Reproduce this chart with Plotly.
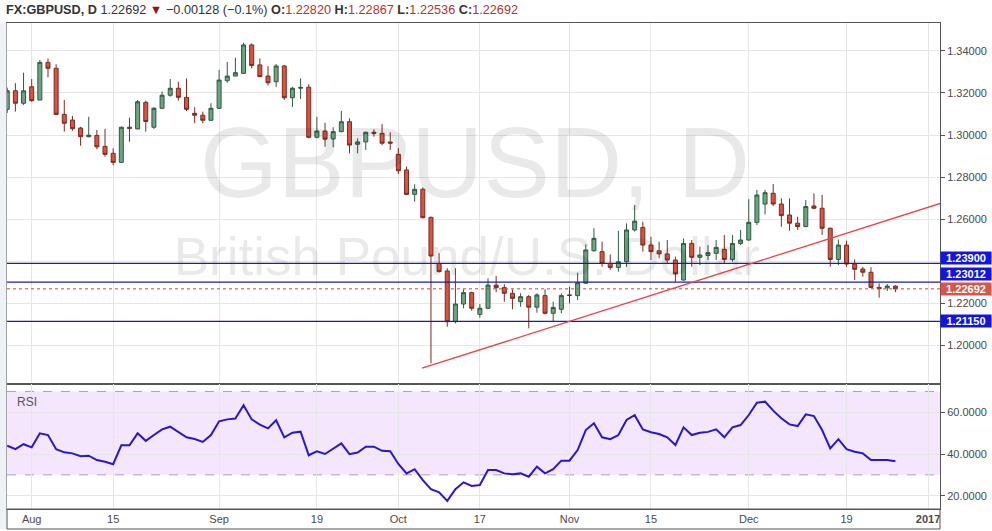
import plotly.graph_objects as go
import pandas as pd

W, H = 992, 531

# ---------------- data ----------------
start_date = "2016-07-27"   # first (partly hidden) daily bar

opens = [1.3122, 1.3210, 1.3151, 1.3229, 1.3166, 1.3345, 1.3317, 1.3098, 1.3071, 1.3033,
         1.2992, 1.2998, 1.2946, 1.2913, 1.2870, 1.3037, 1.3029, 1.3155, 1.3037, 1.3127,
         1.3189, 1.3222, 1.3179, 1.3103, 1.3094, 1.3070, 1.3127, 1.3258, 1.3280, 1.3293,
         1.3428, 1.3333, 1.3280, 1.3253, 1.3328, 1.3177, 1.3222, 1.3227, 1.2989, 1.3019,
         1.2981, 1.3016, 1.3063, 1.2956, 1.2967, 1.3013, 1.3008, 1.2967, 1.2908, 1.2834,
         1.2718, 1.2742, 1.2609, 1.2390, 1.2354, 1.2113, 1.2197, 1.2251, 1.2148, 1.2177,
         1.2287, 1.2275, 1.2248, 1.2208, 1.2232, 1.2182, 1.2237, 1.2153, 1.2172, 1.2240,
         1.2237, 1.2296, 1.2450, 1.2446, 1.2390, 1.2371, 1.2398, 1.2549, 1.2561, 1.2477,
         1.2450, 1.2435, 1.2406, 1.2311, 1.2485, 1.2419, 1.2428, 1.2438, 1.2457, 1.2409,
         1.2485, 1.2501, 1.2585, 1.2672, 1.2723, 1.2672, 1.2620, 1.2581, 1.2565, 1.2663,
         1.2652, 1.2557, 1.2409, 1.2477, 1.2387, 1.2363, 1.2348, 1.2276, 1.2274, 1.22820]
highs = [1.3225, 1.3246, 1.3296, 1.3266, 1.3356, 1.3364, 1.3336, 1.3166, 1.3090, 1.3039,
         1.3087, 1.3024, 1.3029, 1.2937, 1.3040, 1.3082, 1.3166, 1.3163, 1.3132, 1.3206,
         1.3266, 1.3253, 1.3269, 1.3132, 1.3111, 1.3151, 1.3309, 1.3347, 1.3367, 1.3438,
         1.3435, 1.3364, 1.3327, 1.3337, 1.3333, 1.3229, 1.3269, 1.3241, 1.3087, 1.3058,
         1.3037, 1.3114, 1.3079, 1.2984, 1.3016, 1.3027, 1.3052, 1.3013, 1.2937, 1.2850,
         1.2766, 1.2751, 1.2612, 1.2438, 1.2367, 1.2367, 1.2267, 1.2256, 1.2197, 1.2319,
         1.2330, 1.2291, 1.2267, 1.2248, 1.2240, 1.2248, 1.2267, 1.2208, 1.2248, 1.2279,
         1.2346, 1.2480, 1.2557, 1.2493, 1.2433, 1.2545, 1.2580, 1.2667, 1.2588, 1.2517,
         1.2493, 1.2501, 1.2422, 1.2509, 1.2501, 1.2469, 1.2477, 1.2501, 1.2525, 1.2525,
         1.2549, 1.2695, 1.2739, 1.2739, 1.2767, 1.2699, 1.2699, 1.2612, 1.2691, 1.2723,
         1.2715, 1.2560, 1.2504, 1.2498, 1.2409, 1.2374, 1.2372, 1.2295, 1.2292, 1.22867]
lows = [1.3105, 1.3111, 1.3143, 1.3158, 1.3166, 1.3274, 1.3098, 1.3016, 1.3020, 1.2949,
        1.2989, 1.2932, 1.2897, 1.2857, 1.2868, 1.2968, 1.3027, 1.3016, 1.3029, 1.3124,
        1.3182, 1.3163, 1.3114, 1.3056, 1.3056, 1.3067, 1.3124, 1.3248, 1.3280, 1.3290,
        1.3317, 1.3277, 1.3236, 1.3229, 1.3166, 1.3134, 1.3171, 1.2984, 1.2984, 1.2944,
        1.2942, 1.3013, 1.2913, 1.2913, 1.2929, 1.2992, 1.2952, 1.2929, 1.2815, 1.2715,
        1.2683, 1.2604, 1.1915, 1.2346, 1.2089, 1.2105, 1.2177, 1.2165, 1.2132, 1.2173,
        1.2253, 1.2208, 1.2172, 1.2184, 1.2082, 1.2156, 1.2148, 1.2113, 1.2153, 1.2200,
        1.2216, 1.2292, 1.2446, 1.2374, 1.2359, 1.2351, 1.2374, 1.2541, 1.2446, 1.2406,
        1.2414, 1.2390, 1.2303, 1.2308, 1.2374, 1.2382, 1.2406, 1.2406, 1.2387, 1.2398,
        1.2477, 1.2498, 1.2572, 1.2623, 1.2663, 1.2564, 1.2545, 1.2549, 1.2562, 1.2647,
        1.2525, 1.2374, 1.2382, 1.2374, 1.2311, 1.2327, 1.2273, 1.2227, 1.2259, 1.22536]
closes = [1.3210, 1.3151, 1.3210, 1.3163, 1.3345, 1.3317, 1.3098, 1.3056, 1.3030, 1.2992,
          1.2999, 1.2944, 1.2908, 1.2870, 1.3037, 1.3032, 1.3158, 1.3064, 1.3127, 1.3189,
          1.3222, 1.3179, 1.3122, 1.3094, 1.3070, 1.3127, 1.3261, 1.3280, 1.3296, 1.3428,
          1.3330, 1.3277, 1.3248, 1.3328, 1.3177, 1.3222, 1.3226, 1.2989, 1.3019, 1.2980,
          1.3016, 1.3063, 1.2952, 1.2967, 1.3013, 1.3008, 1.2961, 1.2961, 1.2830, 1.2718,
          1.2742, 1.2607, 1.2425, 1.2351, 1.2113, 1.2197, 1.2251, 1.2177, 1.2177, 1.2287,
          1.2275, 1.2248, 1.2224, 1.2232, 1.2182, 1.2240, 1.2153, 1.2181, 1.2237, 1.2238,
          1.2298, 1.2454, 1.2509, 1.2390, 1.2371, 1.2398, 1.2549, 1.2591, 1.2477, 1.2446,
          1.2435, 1.2406, 1.2340, 1.2485, 1.2419, 1.2430, 1.2441, 1.2466, 1.2409, 1.2485,
          1.2501, 1.2585, 1.2715, 1.2726, 1.2672, 1.2617, 1.2581, 1.2565, 1.2660, 1.2652,
          1.2557, 1.2409, 1.2477, 1.2387, 1.2362, 1.2348, 1.2276, 1.2270, 1.2282, 1.22692]

rsi = [44.0, 42.3, 44.7, 43.2, 49.9, 49.1, 42.3, 40.8, 40.3, 38.9,
       39.2, 37.1, 36.3, 35.1, 44.2, 44.2, 49.9, 46.3, 49.1, 51.8,
       53.1, 50.7, 48.0, 47.2, 45.8, 49.1, 55.7, 56.6, 57.0, 63.4,
       56.6, 54.1, 52.3, 56.2, 48.0, 50.2, 50.7, 39.4, 41.3, 40.0,
       42.6, 45.1, 39.9, 40.7, 43.5, 43.5, 41.5, 41.3, 35.2, 30.7,
       32.7, 27.5, 23.1, 21.6, 17.5, 23.1, 26.4, 24.7, 25.1, 32.3,
       32.3, 30.7, 30.3, 30.7, 29.1, 33.9, 30.7, 32.7, 36.8, 36.8,
       41.9, 51.5, 54.7, 48.0, 47.1, 49.1, 56.3, 58.6, 51.8, 50.4,
       49.6, 48.0, 44.3, 52.8, 49.1, 50.2, 50.6, 51.8, 48.0, 52.8,
       53.9, 58.7, 64.6, 65.1, 60.8, 57.1, 54.2, 53.4, 59.0, 58.2,
       51.5, 42.7, 47.1, 42.3, 41.1, 40.3, 37.1, 37.1, 37.1, 36.5]

tick_dates = ["2016-08-01", "2016-08-15", "2016-09-01", "2016-09-19", "2016-10-03",
              "2016-10-17", "2016-11-01", "2016-11-15", "2016-12-01", "2016-12-19",
              "2017-01-02"]
tick_text = ["Aug", "15", "Sep", "19", "Oct", "17", "Nov", "15", "Dec", "19", "<b>2017</b>"]

price_ticks = [1.20, 1.22, 1.24, 1.26, 1.28, 1.30, 1.32, 1.34]
price_tick_text = ["1.20000", "1.22000", "", "1.26000", "1.28000", "1.30000", "1.32000", "1.34000"]
rsi_ticks = [20, 40, 60]
rsi_band = [30, 70]

level_lines = [1.23900, 1.23012, 1.21150]
last_price = 1.22692

# trend line: start near the Oct 7 low, running to the right edge
trend_dates = ["2016-10-06", "2017-01-05"]
trend_prices = [1.1892, 1.2699]

header_vals = {"last": "1.22692", "chg": "\u22120.00128 (\u22120.1%)",
               "O": "1.22820", "H": "1.22867", "L": "1.22536", "C": "1.22692"}

# ---------------- positions (trading-day index) ----------------
bdays = pd.bdate_range(start_date, "2017-01-31")
pos = {d.strftime("%Y-%m-%d"): i for i, d in enumerate(bdays)}
xs = list(range(len(opens)))
tick_pos = [pos[d] for d in tick_dates]
trend_x = [pos[trend_dates[0]] - 0.1, pos[trend_dates[1]] + 0.47]

# pixel geometry of the panes
PX_L, PX_R = 7, 940
PY_TOP, PY_MID, PY_BOT, PY_AX = 23, 384, 509, 529
x_range = [-0.03, 114.47]
y_range = [1.18171, 1.35321]
r_range = [13.62, 73.57]

def fy(py):
    return 1 - py / H

def fx(px):
    return px / W

grid = "#e6e6e6"
border = "#555555"
axfont = dict(family="Liberation Sans, Arial, sans-serif", size=11, color="#4a4a4a")

fig = go.Figure()

def hline(v, color, width, dash, xa, ya):
    fig.add_trace(go.Scatter(x=x_range, y=[v, v], mode="lines",
                             line=dict(color=color, width=width, dash=dash),
                             hoverinfo="skip", showlegend=False, xaxis=xa, yaxis=ya))

# watermark (behind candles)
fig.add_trace(go.Scatter(x=[57.4], y=[1.2824], mode="text", text=["GBPUSD, D"],
                         textfont=dict(family="Liberation Sans, Arial", size=100,
                                       color="rgba(0,0,0,0.085)"),
                         hoverinfo="skip", showlegend=False, xaxis="x", yaxis="y"))
fig.add_trace(go.Scatter(x=[56.4], y=[1.2397], mode="text",
                         text=["British Pound/U.S. Dollar"],
                         textfont=dict(family="Liberation Sans, Arial", size=53,
                                       color="rgba(0,0,0,0.085)"),
                         hoverinfo="skip", showlegend=False, xaxis="x", yaxis="y"))

for v in level_lines:
    hline(v, "#1c1ca8", 1.3, "solid", "x", "y")
hline(last_price, "#d0453b", 1, "dot", "x", "y")

fig.add_trace(go.Candlestick(
    x=xs, open=opens, high=highs, low=lows, close=closes,
    increasing=dict(fillcolor="#6ba583", line=dict(color="#2f5a40", width=1)),
    decreasing=dict(fillcolor="#d75442", line=dict(color="#7a2b22", width=1)),
    whiskerwidth=0, showlegend=False, xaxis="x", yaxis="y"))

fig.add_trace(go.Scatter(x=trend_x, y=trend_prices, mode="lines",
                         line=dict(color="#e8434c", width=1.3),
                         hoverinfo="skip", showlegend=False, xaxis="x", yaxis="y"))

fig.add_trace(go.Scatter(x=xs, y=rsi, mode="lines",
                         line=dict(color="#2a17c9", width=2),
                         hoverinfo="skip", showlegend=False, xaxis="x2", yaxis="y2"))

shapes = []
# RSI band and its dashed bounds
shapes.append(dict(type="rect", xref="paper", yref="y2", x0=fx(PX_L), x1=fx(PX_R),
                   y0=rsi_band[0], y1=rsi_band[1], fillcolor="#f3e6fd",
                   line=dict(width=0), layer="below"))
for v in rsi_band:
    shapes.append(dict(type="line", xref="paper", yref="y2", x0=fx(PX_L), x1=fx(PX_R) - 0.001,
                       y0=v, y1=v,
                       line=dict(color="#aaa0bd", width=1, dash="dash"), layer="below"))
# left strip & time-axis frame
shapes.append(dict(type="rect", xref="paper", yref="paper", x0=0, x1=fx(6.5),
                   y0=fy(PY_AX), y1=fy(PY_TOP), fillcolor="#eef1f6", line=dict(width=0)))
shapes.append(dict(type="rect", xref="paper", yref="paper", x0=fx(PX_L), x1=fx(PX_R),
                   y0=fy(PY_AX), y1=fy(PY_BOT), line=dict(color=border, width=1)))

annotations = []
hv = header_vals
red = "#b0362c"
header = (f"<b>FX:GBPUSD, D</b> {hv['last']} <span style='color:#9c1212'>\u25BC</span> "
          f"{hv['chg']} "
          f"<b>O:</b><span style='color:{red}'>{hv['O']}</span> "
          f"<b>H:</b><span style='color:{red}'>{hv['H']}</span> "
          f"<b>L:</b><span style='color:{red}'>{hv['L']}</span> "
          f"<b>C:</b><span style='color:{red}'>{hv['C']}</span>")
annotations.append(dict(xref="paper", yref="paper", x=fx(4), y=fy(10.5), xanchor="left",
                        yanchor="middle", text=header, showarrow=False,
                        font=dict(family="Liberation Sans, Arial", size=12.7, color="#333333")))
annotations.append(dict(xref="paper", yref="paper", x=fx(15), y=fy(402), xanchor="left",
                        yanchor="middle", text="RSI", showarrow=False,
                        font=dict(family="Liberation Sans, Arial", size=12, color="#555555")))

label_specs = [(level_lines[0], 5.5, "#1414e0"), (level_lines[1], 8.5, "#1414e0"),
               (last_price, 0, "#d4574a"), (level_lines[2], 0, "#1414e0")]
for v, ys, col in label_specs:
    annotations.append(dict(xref="paper", yref="y", x=fx(PX_R), y=v, yshift=ys,
                            xanchor="left", yanchor="middle", text=f"<b>{v:.5f}</b>",
                            showarrow=False, bgcolor=col, width=50, height=12,
                            borderpad=0, align="center",
                            font=dict(family="Liberation Sans, Arial", size=11,
                                      color="white")))

fig.update_layout(
    width=W, height=H, margin=dict(l=0, r=0, t=0, b=0),
    paper_bgcolor="white", plot_bgcolor="white", showlegend=False,
    shapes=shapes, annotations=annotations, hovermode=False,
    xaxis=dict(domain=[fx(PX_L), fx(PX_R)], range=x_range, anchor="y",
               tickvals=tick_pos, showticklabels=False, ticks="",
               showgrid=True, gridcolor=grid, zeroline=False,
               showline=True, linecolor=border, mirror=True,
               rangeslider=dict(visible=False), fixedrange=True),
    xaxis2=dict(domain=[fx(PX_L), fx(PX_R)], range=x_range, anchor="y2", matches="x",
                tickvals=tick_pos, ticktext=tick_text, ticks="", tickfont=axfont,
                showgrid=True, gridcolor=grid, zeroline=False,
                showline=True, linecolor=border, mirror=True),
    yaxis=dict(domain=[fy(PY_MID), fy(PY_TOP)], range=y_range, anchor="x", side="right",
               tickvals=price_ticks, ticktext=price_tick_text,
               ticks="outside", ticklen=4, tickcolor=border, tickfont=axfont,
               showgrid=True, gridcolor=grid, zeroline=False,
               showline=True, linecolor=border, mirror=True),
    yaxis2=dict(domain=[fy(PY_BOT), fy(PY_MID)], range=r_range, anchor="x2", side="right",
                tickvals=rsi_ticks, ticktext=[f"{v:.4f}" for v in rsi_ticks],
                ticks="outside", ticklen=4, tickcolor=border, tickfont=axfont,
                showgrid=True, gridcolor=grid, zeroline=False,
                showline=True, linecolor=border, mirror=True),
)

fig.write_html("out.html", config={"displayModeBar": False},
               post_script="document.body.style.margin='0';document.body.style.overflow='hidden';")
